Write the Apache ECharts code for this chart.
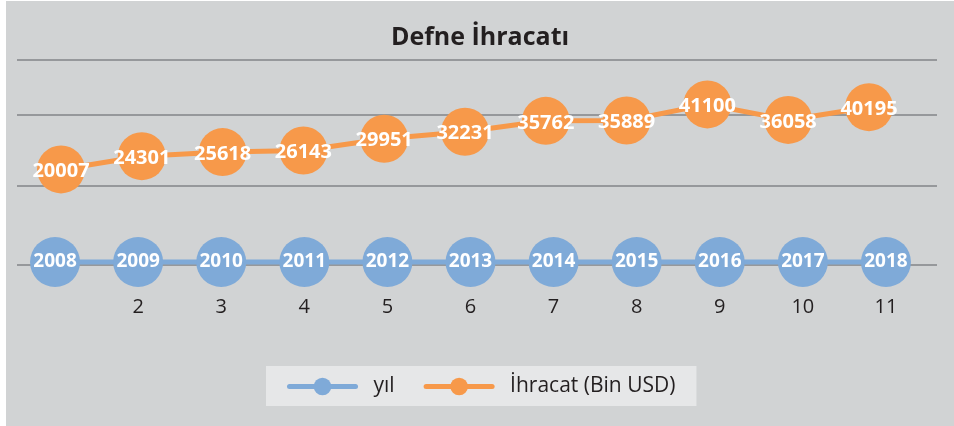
<!DOCTYPE html>
<html>
<head>
<meta charset="utf-8">
<script src="https://cdn.jsdelivr.net/npm/echarts@6/dist/echarts.min.js"></script>
<style>
  html, body { margin: 0; padding: 0; background: #ffffff; }
  #chart { position: absolute; left: 6px; top: 1px; width: 948px; height: 425px; }
</style>
</head>
<body>
<div id="chart"></div>
<script>
// chart data
var xLabels = ['', '2', '3', '4', '5', '6', '7', '8', '9', '10', '11'];
var yil = [2008, 2009, 2010, 2011, 2012, 2013, 2014, 2015, 2016, 2017, 2018];
var ihracat = [20007, 24301, 25618, 26143, 29951, 32231, 35762, 35889, 41100, 36058, 40195];
// horizontal rules of the value axis (ihracat units)
var gridValues = [-11000, 14790, 37820, 55500];

var FONT = '"Open Sans", "Noto Sans", sans-serif';
var blue = '#7faad8';
var orange = '#f7994a';

var chart = echarts.init(document.getElementById('chart'));
chart.setOption({
  animation: false,
  backgroundColor: '#d1d3d4',
  textStyle: { fontFamily: FONT },
  title: {
    text: 'Defne İhracatı',
    left: 'center',
    top: 19,
    textStyle: { fontSize: 25, fontWeight: 'bold', color: '#231f20', fontFamily: FONT }
  },
  legend: {
    left: 260,
    top: 365,
    padding: [10, 21, 9, 21],
    backgroundColor: '#e6e7e8',
    itemWidth: 66,
    itemHeight: 22,
    itemGap: 29,
    lineStyle: { width: 5, cap: 'round' },
    textStyle: { fontSize: 21, color: '#231f20', padding: [0, 0, 0, 13], fontFamily: FONT },
    data: ['yıl', 'İhracat (Bin USD)']
  },
  grid: [
    { left: 11, right: 17, top: 59, height: 205 },
    { left: 7.5, width: 914, top: 59, height: 205 },
    { left: 14.6, width: 888.8, top: 59, height: 205 }
  ],
  xAxis: [
    { gridIndex: 0, type: 'value', min: 0, max: 1, show: false },
    {
      gridIndex: 1, type: 'category', data: xLabels,
      axisLine: { show: false }, axisTick: { show: false }, splitLine: { show: false },
      axisLabel: { margin: 32, fontSize: 20, color: '#231f20', fontFamily: FONT }
    },
    { gridIndex: 2, type: 'category', data: xLabels, show: false }
  ],
  yAxis: [
    {
      gridIndex: 0, type: 'value', min: -11000, max: 55500,
      axisLine: { show: false }, axisLabel: { show: false },
      axisTick: { show: false, customValues: gridValues },
      splitLine: { show: true, lineStyle: { color: '#96989b', width: 2 } }
    },
    { gridIndex: 1, type: 'value', min: 0, max: 137500, show: false, splitLine: { show: false } },
    { gridIndex: 2, type: 'value', min: -11000, max: 55500, show: false, splitLine: { show: false } }
  ],
  series: [
    {
      name: 'yıl',
      type: 'line',
      xAxisIndex: 1,
      yAxisIndex: 1,
      data: yil,
      symbol: 'circle',
      symbolSize: 50,
      lineStyle: { color: blue, width: 5 },
      itemStyle: { color: blue },
      label: {
        show: true, position: 'inside', color: '#ffffff',
        fontSize: 19, fontWeight: 'bold', fontFamily: FONT
      }
    },
    {
      name: 'İhracat (Bin USD)',
      type: 'line',
      xAxisIndex: 2,
      yAxisIndex: 2,
      data: ihracat,
      symbol: 'circle',
      symbolSize: 48,
      lineStyle: { color: orange, width: 5 },
      itemStyle: { color: orange },
      label: {
        show: true, position: 'inside', offset: [0, 2], color: '#ffffff',
        fontSize: 20, fontWeight: 'bold', fontFamily: FONT
      }
    }
  ]
});
</script>
</body>
</html>
